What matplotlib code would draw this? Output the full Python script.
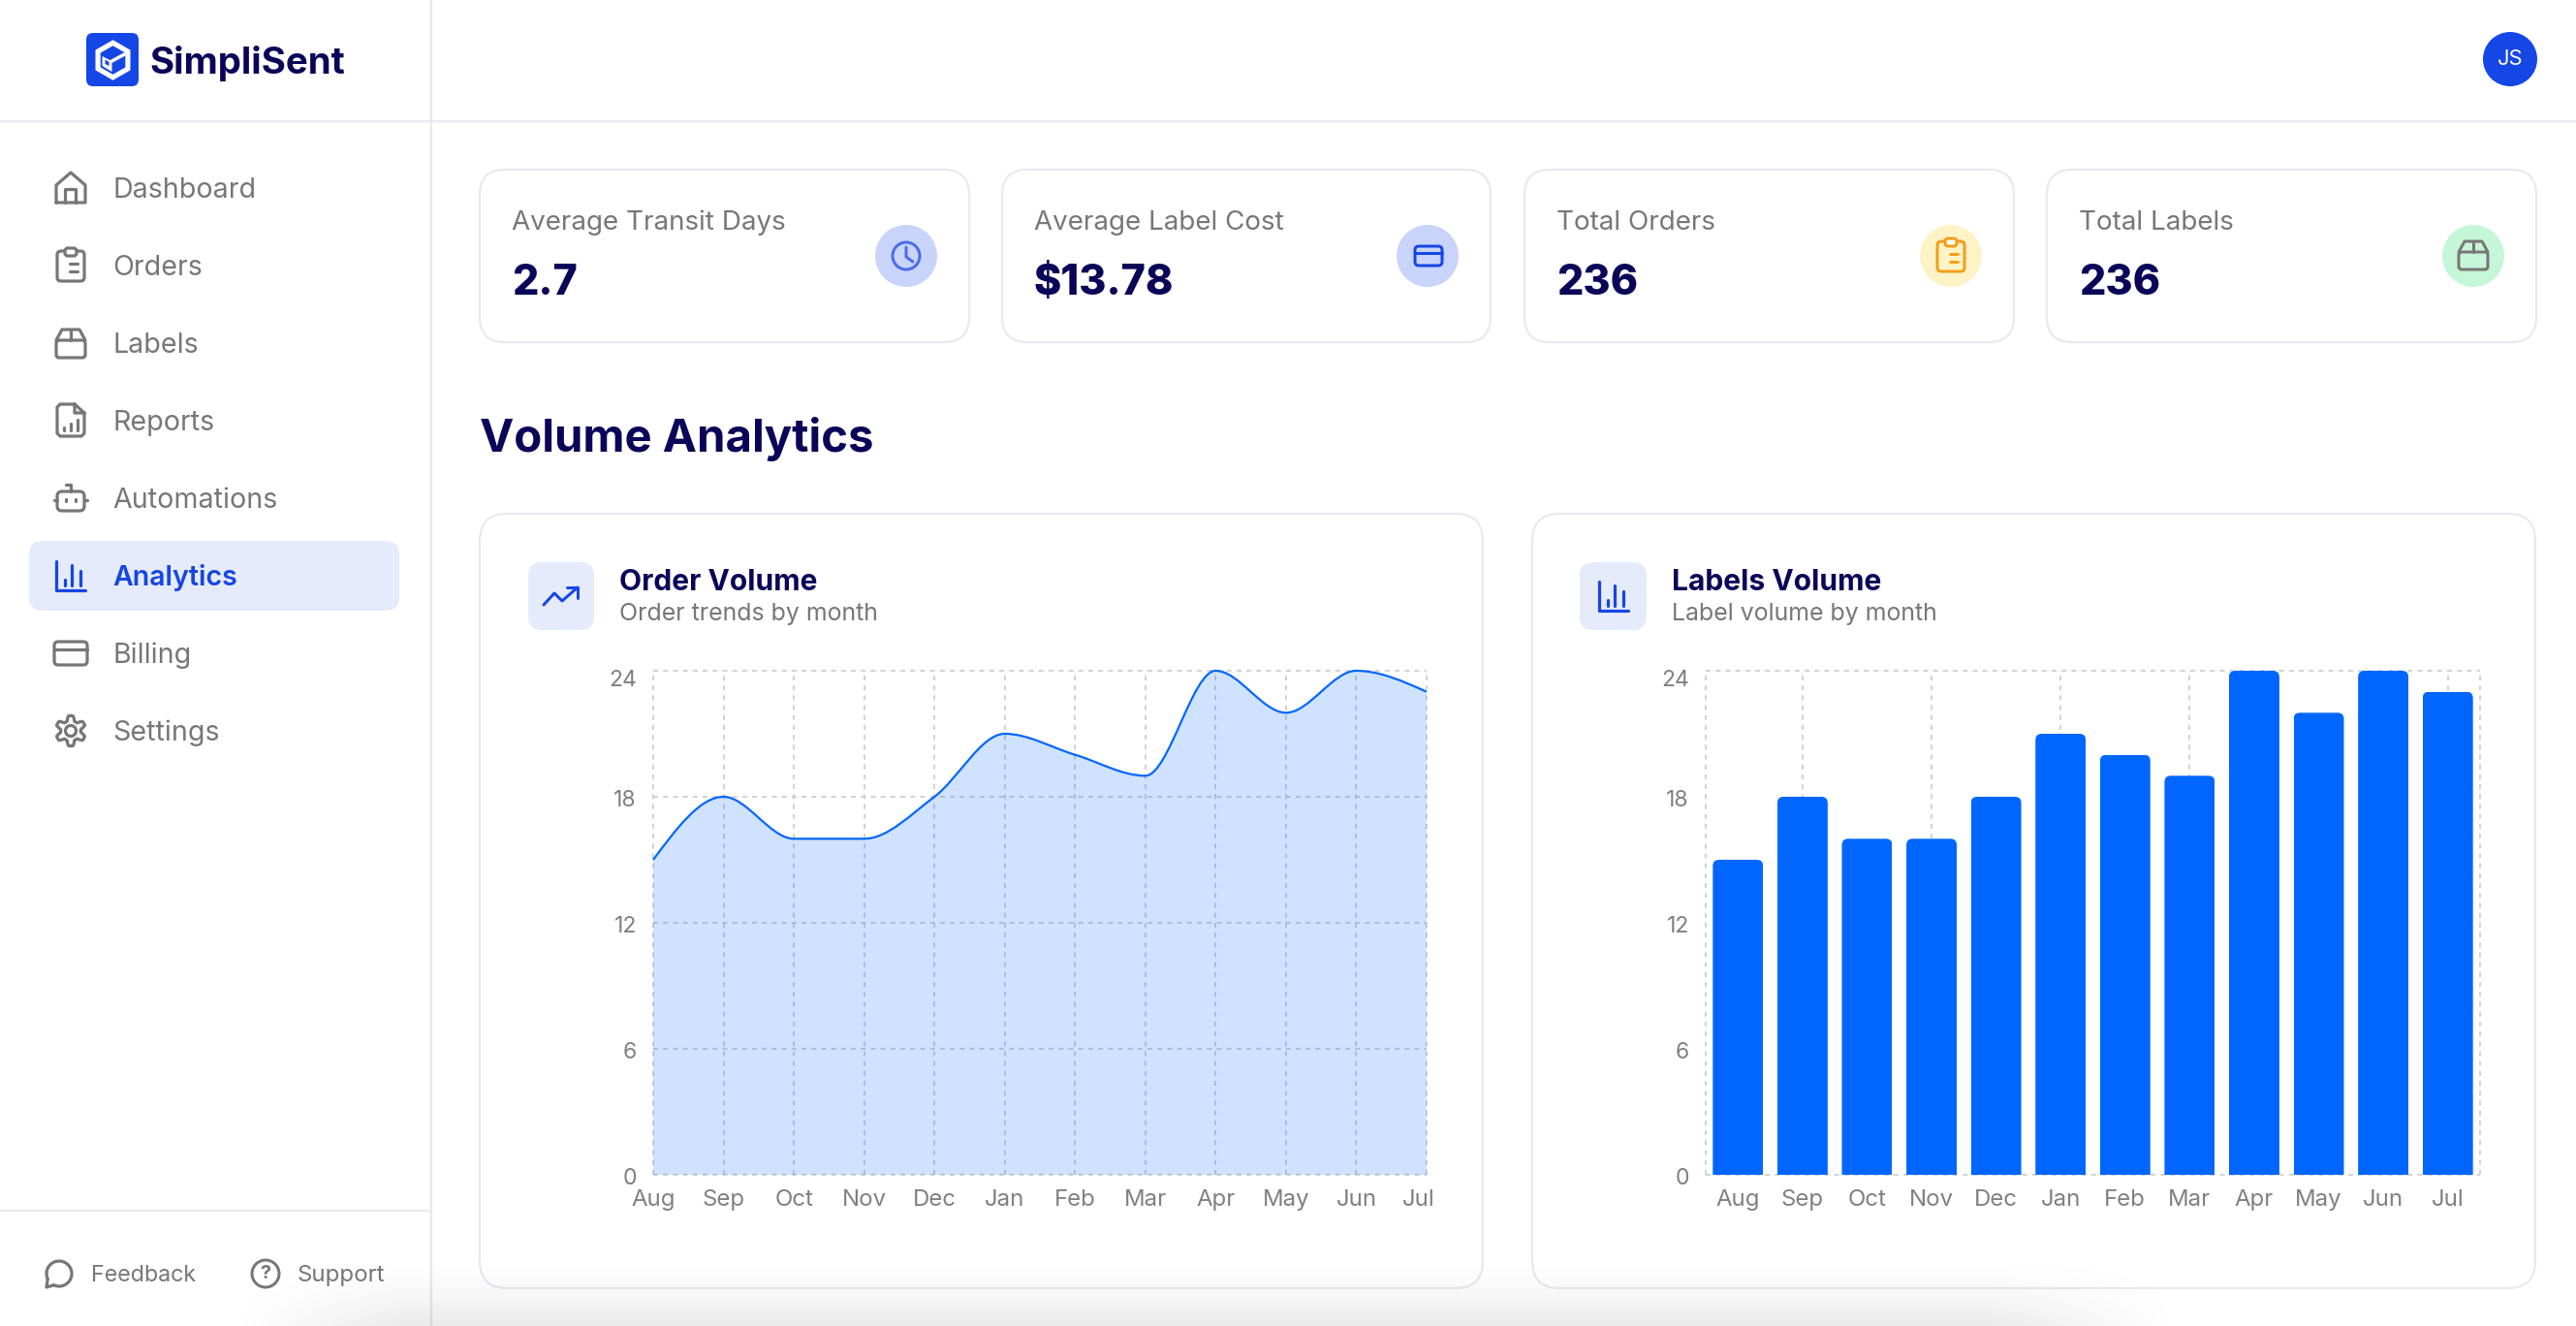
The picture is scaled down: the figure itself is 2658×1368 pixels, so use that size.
#!/usr/bin/env python3
"""SimpliSent analytics dashboard: sidebar, stat cards, order and label volume charts."""

import numpy as np
import matplotlib

matplotlib.use("Agg")
import matplotlib.pyplot as plt
from matplotlib.patches import Circle, FancyBboxPatch, PathPatch, Polygon
from matplotlib.path import Path
from matplotlib.transforms import ScaledTranslation

plt.rcParams["font.family"] = ["Inter", "DejaVu Sans"]

W, H = 2658, 1368

months = ["Aug", "Sep", "Oct", "Nov", "Dec", "Jan", "Feb", "Mar", "Apr", "May", "Jun", "Jul"]
order_volume = [15, 18, 16, 16, 18, 21, 20, 19, 24, 22, 24, 23]
labels_volume = [15, 18, 16, 16, 18, 21, 20, 19, 24, 22, 24, 23]
y_ticks = [0, 6, 12, 18, 24]
# the bar chart only shows some of its vertical grid lines
bar_grid_months = ["Sep", "Nov", "Jan", "Mar", "Jul"]

nav_items = ["Dashboard", "Orders", "Labels", "Reports", "Automations", "Analytics", "Billing", "Settings"]
stat_names = ["Average Transit Days", "Average Label Cost", "Total Orders", "Total Labels"]
stat_values = ["2.7", "$13.78", "236", "236"]

NAVY = "#0A0558"
BLUE = "#1546E6"
BAR_BLUE = "#0066FF"
GREY = "#777777"
TICK_GREY = "#808080"
BORDER = "#E9E9EF"
GRID = "#CCCCCC"


def pt(px):
    return px * 72 / 100


fig = plt.figure(figsize=(W / 100, H / 100), dpi=100, facecolor="white")
bg = fig.add_axes([0, 0, 1, 1], zorder=0)
bg.set_xlim(0, W)
bg.set_ylim(H, 0)
bg.axis("off")


def rrect(x0, y0, x1, y1, r, fc="white", ec="none", lw=0.0, z=2):
    p = FancyBboxPatch((x0 + r, y0 + r), x1 - x0 - 2 * r, y1 - y0 - 2 * r,
                       boxstyle=f"round,pad={r},rounding_size={r}",
                       fc=fc, ec=ec, lw=pt(lw), zorder=z)
    bg.add_patch(p)


def stroke(xs, ys, color=GREY, lw=3.2):
    bg.plot(xs, ys, color=color, lw=pt(lw), solid_capstyle="round", solid_joinstyle="round", zorder=5)


def text(x, y, s, size, color=GREY, weight="normal", ha="left", va="baseline"):
    bg.text(x, y, s, fontsize=pt(size), color=color, fontweight=weight, ha=ha, va=va, zorder=6)


def icon_home(cx, cy):
    stroke(cx + np.array([-15, -15, 0, 15, 15, -15]), cy + np.array([15, -3, -16, -3, 15, 15]))
    stroke(cx + np.array([-6, -6, 5, 5]), cy + np.array([15, 1, 1, 15]))


def icon_clipboard(cx, cy, color=GREY, lw=3.2):
    rrect(cx - 14, cy - 15, cx + 14, cy + 16, 4, fc="none", ec=color, lw=lw, z=5)
    rrect(cx - 6, cy - 18, cx + 6, cy - 10, 3, fc="white", ec=color, lw=lw, z=5)
    for dy in (-2, 6):
        stroke([cx - 6.5, cx - 6], [cy + dy, cy + dy], color, lw)
        stroke([cx - 1, cx + 7], [cy + dy, cy + dy], color, lw)


def icon_box(cx, cy, color=GREY, lw=3.2):
    rrect(cx - 15, cy - 4, cx + 15, cy + 14, 3, fc="none", ec=color, lw=lw, z=5)
    stroke(cx + np.array([-15, -9, 9, 15]), cy + np.array([-4, -15, -15, -4]), color, lw)
    stroke([cx, cx], [cy - 15, cy - 4], color, lw)


def icon_report(cx, cy):
    stroke(cx + np.array([4, -11, -14, -14, -11, 11, 14, 14, 4, 4, 14]),
           cy + np.array([-17, -17, -14, 13, 16, 16, 13, -8, -17, -8, -8]))
    for dx, top in ((-7, 7), (0, 3), (7, -1)):
        stroke([cx + dx, cx + dx], [cy + 10, cy + top])


def icon_bot(cx, cy):
    rrect(cx - 14, cy - 7, cx + 14, cy + 13, 5, fc="none", ec=GREY, lw=3.2, z=5)
    stroke([cx, cx, cx - 5], [cy - 7, cy - 14, cy - 14])
    stroke([cx - 17, cx - 14], [cy + 2, cy + 2])
    stroke([cx + 14, cx + 17], [cy + 2, cy + 2])
    stroke([cx - 5, cx - 5], [cy + 1, cy + 3])
    stroke([cx + 5, cx + 5], [cy + 1, cy + 3])


def icon_bars(cx, cy, color=BLUE):
    stroke(cx + np.array([-15, -15, 15]), cy + np.array([-15, 15, 15]), color)
    for dx, top in ((-6, 4), (1, -11), (10, -5)):
        stroke([cx + dx, cx + dx], [cy + 10, cy + top], color)


def icon_card(cx, cy, half_w=17, half_h=12, color=GREY, lw=3.2):
    rrect(cx - half_w, cy - half_h, cx + half_w, cy + half_h, 4, fc="none", ec=color, lw=lw, z=5)
    stroke([cx - half_w, cx + half_w], [cy - half_h / 3, cy - half_h / 3], color, lw)


def icon_gear(cx, cy):
    theta = np.linspace(0, 2 * np.pi, 240)
    radius = 13 + 2.6 * np.clip(1.6 * np.cos(6 * theta), -1, 1)
    stroke(cx + radius * np.sin(theta), cy + radius * np.cos(theta))
    bg.add_patch(Circle((cx, cy), 5.5, fc="none", ec=GREY, lw=pt(3.2), zorder=5))


def draw_chrome():
    # sidebar and header rules
    bg.plot([445, 445], [0, H], color=BORDER, lw=pt(2.2), zorder=1)
    bg.plot([0, W], [125, 125], color=BORDER, lw=pt(2.2), zorder=1)
    bg.plot([0, 445], [1249, 1249], color=BORDER, lw=pt(2.2), zorder=1)

    # logo
    rrect(89, 34, 143, 89, 7, fc=BLUE, z=3)
    cx, cy = 116.5, 62
    hex_a = np.radians(np.arange(30, 390, 60))
    bg.add_patch(Polygon(np.c_[cx + 20 * np.cos(hex_a), cy + 20 * np.sin(hex_a)], fc="white", ec="white", lw=1, zorder=4))
    bg.add_patch(Polygon(np.c_[cx + 14 * np.cos(hex_a), cy + 14 * np.sin(hex_a)], fc=BLUE, ec=BLUE, lw=1, zorder=5))
    bg.add_patch(Polygon([(cx - 11, cy - 4), (cx - 1, cy + 1), (cx - 1, cy + 12), (cx - 11, cy + 6)], fc="white", ec="none", zorder=6))
    bg.add_patch(Polygon([(cx - 8, cy - 0.5), (cx - 4, cy + 2), (cx - 4, cy + 6), (cx - 8, cy + 4)], fc=BLUE, ec="none", zorder=6))
    stroke([cx - 1, cx + 12], [cy + 1, cy - 6], "white", 3.5)
    text(154, 76, "SimpliSent", 38.5, NAVY, "bold")

    # avatar
    bg.add_patch(Circle((2590, 61), 28, fc=BLUE, ec="none", zorder=3))
    text(2590, 61, "JS", 22, "white", ha="center", va="center")

    # navigation
    rrect(30, 558, 412, 630, 14, fc="#E6EBFB", z=1)
    icons = [icon_home, icon_clipboard, icon_box, icon_report, icon_bot, icon_bars, icon_card, icon_gear]
    for i, (name, icon) in enumerate(zip(nav_items, icons)):
        row = 194 + 80 * i
        active = name == "Analytics"
        if name == "Labels":
            icon(73, row + 1)
        else:
            icon(73, row)
        text(116.5, row + 10, name, 28.6, BLUE if active else GREY, "semibold" if active else "normal")

    # footer links
    theta = np.linspace(np.radians(155), np.radians(475), 80)
    stroke(61 + 13 * np.cos(theta), 1314 + 13 * np.sin(theta))
    stroke([49.2, 48, 55.5], [1319.5, 1328, 1325.8])
    text(94.5, 1322, "Feedback", 23.3, GREY)
    bg.add_patch(Circle((274, 1314), 14, fc="none", ec=GREY, lw=pt(3), zorder=5))
    text(274, 1314, "?", 20, GREY, "bold", ha="center", va="center")
    text(306, 1322, "Support", 24, GREY)


def draw_stats():
    card_x = [(495, 1000), (1034, 1538), (1573, 2078), (2112, 2617)]
    tints = ["#C9D4FA", "#C9D4FA", "#FEF3C7", "#C6F6D8"]
    for i, (x0, x1) in enumerate(card_x):
        rrect(x0, 175, x1, 353, 26, fc="white", ec=BORDER, lw=2.2)
        text(x0 + 33, 237, stat_names[i], 27.8, GREY)
        text(x0 + 33, 304, stat_values[i], 43, NAVY, "heavy")
        bg.add_patch(Circle((x1 - 65, 264), 32, fc=tints[i], ec="none", zorder=3))

    # clock
    bg.add_patch(Circle((935, 264), 14, fc="none", ec="#4A6DE8", lw=pt(3), zorder=5))
    stroke([935, 935, 942], [255, 265, 270], "#4A6DE8", 3)
    icon_card(1474, 264, 14, 10, BLUE, 3)
    icon_clipboard(2013, 264, "#F59E1B", 3)
    icon_box(2552, 264, GREY, 3)

    text(495, 466, "Volume Analytics", 47.2, NAVY, "bold")


def monotone_path(x, y):
    """Monotone cubic through the points, as Bezier segments."""
    x = np.asarray(x, float)
    y = np.asarray(y, float)
    h = np.diff(x)
    s = np.diff(y) / h
    t = np.zeros(len(x))
    for i in range(1, len(x) - 1):
        p = (s[i - 1] * h[i] + s[i] * h[i - 1]) / (h[i - 1] + h[i])
        t[i] = (np.sign(s[i - 1]) + np.sign(s[i])) * min(abs(s[i - 1]), abs(s[i]), 0.5 * abs(p))
    t[0] = (3 * s[0] - t[1]) / 2
    t[-1] = (3 * s[-1] - t[-2]) / 2
    verts = [(x[0], y[0])]
    codes = [Path.MOVETO]
    for i in range(len(x) - 1):
        d = h[i] / 3
        verts += [(x[i] + d, y[i] + d * t[i]), (x[i + 1] - d, y[i + 1] - d * t[i + 1]), (x[i + 1], y[i + 1])]
        codes += [Path.CURVE4] * 3
    return verts, codes


def chart_axes(x0, y0, x1, y1):
    ax = fig.add_axes([x0 / W, 1 - y1 / H, (x1 - x0) / W, (y1 - y0) / H], zorder=1)
    ax.patch.set_alpha(0)
    for spine in ax.spines.values():
        spine.set_visible(False)
    ax.set_ylim(0, 24)
    return ax


def style_ticks(ax, tick_pos):
    ax.set_xticks(tick_pos, months)
    ax.set_yticks(y_ticks)
    ax.tick_params(axis="both", length=0, labelcolor=TICK_GREY)
    ax.tick_params(axis="x", pad=pt(15), labelsize=pt(24))
    ax.tick_params(axis="y", pad=pt(17), labelsize=pt(23))
    # labels sit a little below their grid lines, the top one more so
    for label, value in zip(ax.get_yticklabels(), y_ticks):
        shift = -8 if value == 24 else -1
        label.set_transform(label.get_transform() + ScaledTranslation(0, shift / 100, fig.dpi_scale_trans))


def dashed(ax, kind, *args):
    style = dict(colors=GRID, linewidths=pt(1.7), linestyles=(0, (3, 3)), zorder=1, clip_on=False)
    getattr(ax, kind)(*args, **style)


def draw_order_chart():
    rrect(495, 530, 1530, 1329, 28, fc="white", ec=BORDER, lw=2.2)
    rrect(545, 580, 613, 650, 14, fc="#E6EBFB", z=3)
    stroke([561, 572, 580, 596], [624, 612, 620, 606], BLUE, 3)
    stroke([585, 596, 596], [606, 606, 617], BLUE, 3)
    text(639, 609, "Order Volume", 30, NAVY, "bold")
    text(639, 640, "Order trends by month", 24.9, GREY)

    ax = chart_axes(674, 692, 1472, 1212)
    x = np.arange(len(months))
    ax.set_xlim(0, len(months) - 1)
    dashed(ax, "hlines", y_ticks, 0, len(months) - 1)
    dashed(ax, "vlines", x, 0, 24)

    verts, codes = monotone_path(x, order_volume)
    area = Path(verts + [(x[-1], 0), (x[0], 0), verts[0]], codes + [Path.LINETO, Path.LINETO, Path.CLOSEPOLY])
    ax.add_patch(PathPatch(area, fc=BAR_BLUE, ec="none", alpha=0.19, zorder=2))
    ax.add_patch(PathPatch(Path(verts, codes), fc="none", ec=BAR_BLUE, lw=pt(2.2), zorder=3, clip_on=False))

    style_ticks(ax, x)
    # the last label is pushed back inside the chart
    last = ax.get_xticklabels()[-1]
    last.set_transform(last.get_transform() + ScaledTranslation(-8 / 100, 0, fig.dpi_scale_trans))


def draw_label_chart():
    rrect(1581, 530, 2616, 1329, 28, fc="white", ec=BORDER, lw=2.2)
    rrect(1630, 580, 1699, 650, 14, fc="#E6EBFB", z=3)
    icon_bars(1665, 615)
    text(1725, 609, "Labels Volume", 30, NAVY, "bold")
    text(1725, 640, "Label volume by month", 24.9, GREY)

    x0, x1, y0, y1 = 1760, 2559, 692, 1212
    ax = chart_axes(x0, y0, x1, y1)
    x = np.arange(len(months))
    ax.set_xlim(-0.5, len(months) - 0.5)
    dashed(ax, "hlines", [0, 24], -0.5, len(months) - 0.5)
    dashed(ax, "vlines", [-0.5, len(months) - 0.5] + [months.index(m) for m in bar_grid_months], 0, 24)

    bar_w = 0.78
    bars = ax.bar(x, labels_volume, width=bar_w, color=BAR_BLUE, zorder=3)
    # round the top corners
    rx = 6.5 * len(months) / (x1 - x0)
    ry = 6.5 * 24 / (y1 - y0)
    for bar in bars:
        a, b, h = bar.get_x(), bar.get_x() + bar_w, bar.get_height()
        clip = Path([(a, 0), (a, h - ry), (a, h), (a + rx, h), (b - rx, h), (b, h), (b, h - ry), (b, 0), (a, 0)],
                    [Path.MOVETO, Path.LINETO, Path.CURVE3, Path.CURVE3, Path.LINETO, Path.CURVE3, Path.CURVE3, Path.LINETO, Path.CLOSEPOLY])
        bar.set_clip_path(clip, ax.transData)

    style_ticks(ax, x)


def draw_shadow():
    # soft page shadow along the bottom edge
    xs = np.linspace(0, W, 400)
    ys = np.linspace(1290, H, 60)
    fx = np.clip((xs - 240) / 180, 0, 1) * np.clip((2250 - xs) / 200, 0, 1)
    fy = ((ys - 1290) / (H - 1290)) ** 1.6
    rgba = np.zeros((len(ys), len(xs), 4))
    rgba[..., 3] = 0.085 * np.outer(fy, fx)
    bg.imshow(rgba, extent=(0, W, H, 1290), aspect="auto", zorder=20, interpolation="bilinear")
    bg.set_xlim(0, W)
    bg.set_ylim(H, 0)


def main():
    draw_chrome()
    draw_stats()
    draw_order_chart()
    draw_label_chart()
    draw_shadow()
    fig.savefig("out.png", dpi=100)


if __name__ == "__main__":
    main()
